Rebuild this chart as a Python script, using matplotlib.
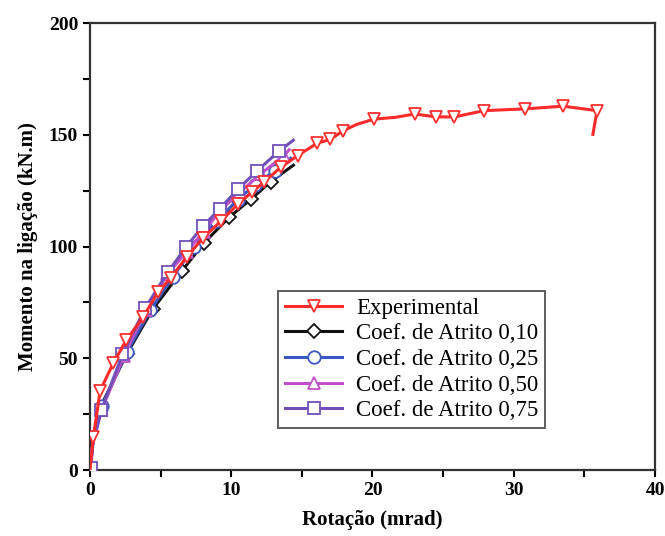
import matplotlib
matplotlib.use("Agg")
import matplotlib.pyplot as plt
from matplotlib.ticker import MultipleLocator

plt.rcParams['font.family'] = ['Liberation Serif', 'DejaVu Serif']

# Experimental
exp_x = [0.0, 0.24, 0.72, 1.66, 2.56, 3.77, 4.82, 5.72, 6.84, 7.98, 9.3, 10.5, 11.5, 12.3, 13.5,
         14.7, 16.1, 17.0, 17.9, 18.9, 20.1, 21.6, 23.0, 24.5, 25.8, 27.9, 30.8, 33.5, 35.9, 35.6]
exp_y = [0.0, 14.8, 35.5, 48.0, 58.0, 68.6, 79.6, 86.0, 95.3, 103.7, 111.6, 119.2, 124.5, 128.8, 135.4,
         140.7, 146.3, 147.9, 151.7, 154.7, 157.0, 157.8, 159.3, 158.0, 158.0, 160.8, 161.6, 162.8, 160.8, 150.2]
exp_marks = [1, 2, 3, 4, 5, 6, 7, 8, 9, 10, 11, 12, 13, 14, 15, 16, 17, 18, 20, 22, 23, 24, 25, 26, 27, 28]

# Coef. de Atrito 0,10
c10_x = [0.0, 0.2, 0.8, 2.59, 4.43, 6.48, 8.04, 9.85, 11.4, 12.8, 14.4]
c10_y = [0.0, 12.0, 29.0, 51.8, 71.9, 88.9, 101.4, 113.1, 121.2, 129.1, 136.4]
c10_marks = [3, 4, 5, 6, 7, 8, 9]

# Coef. de Atrito 0,25
c25_x = [0.0, 0.2, 0.84, 2.62, 4.28, 5.87, 7.35, 8.95, 10.45, 11.66, 13.07, 14.2]
c25_y = [0.0, 12.0, 28.7, 52.9, 71.6, 86.4, 99.7, 111.3, 120.9, 127.6, 133.8, 139.5]
c25_marks = [2, 3, 4, 5, 6, 7, 8, 9, 10]

# Coef. de Atrito 0,50
c50_x = [0.0, 0.2, 0.81, 2.4, 3.97, 5.48, 6.84, 8.04, 9.3, 10.6, 12.1, 13.7, 14.1]
c50_y = [0.0, 12.0, 26.7, 51.0, 71.6, 87.7, 97.6, 106.7, 116.6, 124.2, 132.6, 140.5, 143.3]
c50_marks = [2, 3, 4, 5, 6, 7, 8, 9, 10, 11]

# Coef. de Atrito 0,75
c75_x = [0.06, 0.2, 0.8, 2.3, 3.9, 5.5, 6.8, 7.98, 9.2, 10.5, 11.8, 13.4, 14.4]
c75_y = [0.8, 12.0, 26.7, 51.8, 72.4, 88.4, 99.8, 109.0, 117.0, 125.8, 133.7, 142.8, 147.6]
c75_marks = [0, 2, 3, 4, 5, 6, 7, 8, 9, 10, 11]

labels = ["Experimental", "Coef. de Atrito 0,10", "Coef. de Atrito 0,25",
          "Coef. de Atrito 0,50", "Coef. de Atrito 0,75"]

fig = plt.figure(figsize=(6.65, 5.36), dpi=100)
ax = fig.add_axes([0.1353, 0.123, 0.8497, 0.834])

ms = 9
lw = 2.2
ax.plot(exp_x, exp_y, color='#ff2a2a', lw=lw, marker='v', ms=ms, mfc='white', mec='#ff3030',
        mew=1.3, markevery=exp_marks, label=labels[0], zorder=6)
ax.plot(c10_x, c10_y, color='#111111', lw=lw, marker='D', ms=ms*0.75, mfc='white', mec='#111111',
        mew=1.3, markevery=c10_marks, label=labels[1], zorder=2)
ax.plot(c25_x, c25_y, color='#3a58c0', lw=lw, marker='o', ms=ms, mfc='white', mec='#3a58c0',
        mew=1.3, markevery=c25_marks, label=labels[2], zorder=3)
ax.plot(c50_x, c50_y, color='#c050c8', lw=lw, marker='^', ms=ms, mfc='white', mec='#c050c8',
        mew=1.3, markevery=c50_marks, label=labels[3], zorder=4)
ax.plot(c75_x, c75_y, color='#7050b8', lw=lw, marker='s', ms=ms, mfc='white', mec='#7050b8',
        mew=1.3, markevery=c75_marks, label=labels[4], zorder=5)

ax.set_xlim(0, 40)
ax.set_ylim(0, 200)
ax.xaxis.set_major_locator(MultipleLocator(10))
ax.xaxis.set_minor_locator(MultipleLocator(5))
ax.yaxis.set_major_locator(MultipleLocator(50))
ax.yaxis.set_minor_locator(MultipleLocator(25))
ax.tick_params(which='both', direction='out', width=1.5, top=False, right=False)
ax.tick_params(which='major', length=5, labelsize=14)
ax.tick_params(which='minor', length=5)
for lab in ax.get_xticklabels() + ax.get_yticklabels():
    lab.set_fontweight('bold')
for s in ax.spines.values():
    s.set_linewidth(1.6)
    s.set_color('#333333')

ax.set_xlabel("Rotação (mrad)", fontsize=15, fontweight='bold', labelpad=8)
ax.set_ylabel("Momento na ligação (kN.m)", fontsize=15, fontweight='bold', labelpad=8)

leg = ax.legend(loc='lower left', bbox_to_anchor=(0.333, 0.094), borderaxespad=0,
                fontsize=16.5, frameon=True,
                fancybox=False, edgecolor='#333333', handlelength=2.5, borderpad=0.3,
                labelspacing=0.2, handletextpad=0.6)
leg.get_frame().set_linewidth(1.4)

fig.savefig("out.png", dpi=100)
